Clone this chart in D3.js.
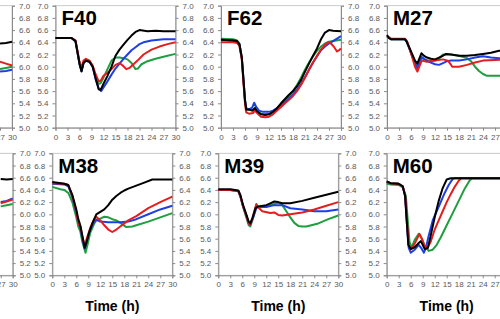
<!DOCTYPE html>
<html>
<head>
<meta charset="utf-8">
<script src="https://cdn.jsdelivr.net/npm/d3@7"></script>
<style>
  body { margin: 0; background: #fff; }
  svg { display: block; font-family: "Liberation Sans", Arial, sans-serif; }
  .tick text { fill: #595959; font-size: 8px; }
  .domain, .tick line { stroke: #8a8a8a; }
</style>
</head>
<body>
<svg id="chart"></svg>
<script>
// time ticks (h) and pH ticks
const timeTicks = [0, 3, 6, 9, 12, 15, 18, 21, 24, 27, 30];
const phTicks = [5.0, 5.2, 5.4, 5.6, 5.8, 6.0, 6.2, 6.4, 6.6, 6.8, 7.0];

// partial panel cut at left edge, top row
const topLeftBlack = [[27,6.38],[28.5,6.39],[30,6.41]];
const topLeftBlue  = [[27,5.92],[28.5,5.93],[30,5.95]];
const topLeftRed   = [[27,6.08],[28.5,6.05],[30,6.02]];
const topLeftGreen = [[27,5.96],[28.5,5.98],[30,6.0]];

const f40Black = [[0,6.47],[4,6.47],[5,6.42],[5.6,6.2],[6,6.05],[6.5,5.92],[7,6.06],[7.6,6.1],[8.5,6.08],[9.3,6.0],[10,5.82],[10.8,5.63],[11.3,5.62],[12,5.72],[13,5.85],[14,6.0],[15,6.18],[16,6.28],[17,6.36],[18,6.44],[19,6.51],[20,6.57],[21,6.6],[23,6.58],[25,6.59],[27,6.58],[30,6.58]];
const f40Blue  = [[0,6.47],[4,6.47],[5,6.42],[5.6,6.2],[6,6.05],[6.5,5.93],[7,6.06],[7.6,6.1],[8.5,6.08],[9.3,6.0],[10,5.8],[10.8,5.64],[11.4,5.6],[12,5.66],[13,5.76],[14,5.87],[15,5.97],[16,6.05],[17,6.13],[18,6.2],[19,6.27],[20,6.32],[21,6.37],[22,6.4],[24,6.43],[27,6.45],[30,6.45]];
const f40Red   = [[0,6.47],[4,6.47],[5,6.43],[5.6,6.22],[6,6.08],[6.5,5.98],[7,6.1],[7.6,6.13],[8.5,6.1],[9.3,6.02],[10,5.88],[10.8,5.76],[11.3,5.77],[12,5.85],[13,5.9],[14,5.96],[15,6.03],[16,6.06],[16.8,6.02],[17.7,5.96],[18.5,5.98],[19.5,6.04],[20.5,6.1],[22,6.2],[24,6.28],[26,6.33],[28,6.37],[30,6.4]];
const f40Green = [[0,6.47],[4,6.47],[5,6.42],[5.6,6.2],[6,6.05],[6.5,5.93],[7,6.06],[7.6,6.1],[8.5,6.08],[9.3,6.0],[10,5.84],[10.8,5.72],[11.3,5.73],[12,5.82],[13,5.96],[14,6.1],[15,6.15],[16,6.15],[17,6.14],[18,6.12],[19,6.06],[20,5.96],[20.6,5.97],[21.5,6.04],[23,6.09],[25,6.13],[27.5,6.17],[30,6.21]];

const f62Black = [[0,6.44],[3,6.43],[4,6.42],[4.6,6.37],[5.2,6.15],[5.6,5.8],[6,5.45],[6.3,5.3],[7,5.3],[7.8,5.28],[8.5,5.32],[9,5.27],[10,5.22],[11,5.21],[12,5.22],[13,5.26],[14,5.32],[15,5.4],[16,5.47],[17,5.54],[18,5.6],[19,5.68],[20,5.78],[21,5.92],[22,6.05],[23,6.18],[24,6.3],[25,6.45],[26,6.56],[27,6.6],[28,6.59],[30,6.58]];
const f62Blue  = [[0,6.44],[3,6.43],[4,6.42],[4.6,6.37],[5.2,6.15],[5.6,5.8],[6,5.45],[6.3,5.32],[7,5.3],[7.8,5.33],[8.3,5.41],[8.8,5.34],[9.5,5.28],[10.5,5.26],[12,5.26],[13,5.28],[14,5.32],[15,5.37],[16,5.42],[17,5.48],[18,5.55],[19,5.63],[20,5.72],[21,5.83],[22,5.95],[23,6.07],[24,6.17],[25,6.27],[26,6.33],[27,6.38],[28,6.42],[29,6.46],[30,6.5]];
const f62Red   = [[0,6.4],[3,6.4],[4,6.39],[4.6,6.34],[5.2,6.12],[5.6,5.75],[6,5.4],[6.3,5.25],[7,5.23],[8,5.24],[8.5,5.28],[9,5.24],[10,5.18],[11,5.17],[12,5.18],[13,5.22],[14,5.28],[15,5.34],[16,5.4],[17,5.46],[18,5.52],[19,5.6],[20,5.7],[21,5.82],[22,5.95],[23,6.07],[24,6.18],[25,6.28],[26,6.36],[26.8,6.4],[27.5,6.38],[28.3,6.32],[29,6.25],[29.5,6.27],[30,6.3]];
const f62Green = [[0,6.46],[3,6.45],[4,6.43],[4.6,6.38],[5.2,6.15],[5.6,5.8],[6,5.45],[6.3,5.3],[7,5.29],[8,5.28],[8.5,5.33],[9,5.27],[10,5.23],[12,5.22],[13,5.26],[14,5.31],[15,5.38],[16,5.45],[17,5.52],[18,5.6],[19,5.7],[20,5.82],[21,5.95],[22,6.07],[23,6.17],[24,6.26],[25,6.33],[26,6.38],[27,6.41],[28,6.42],[30,6.44]];

const m27Black = [[0,6.52],[0.5,6.47],[1,6.45],[4.5,6.45],[5,6.4],[6,6.25],[7,6.1],[7.6,6.05],[8,6.12],[8.6,6.22],[9.2,6.18],[10,6.15],[11,6.13],[12,6.12],[13,6.15],[14,6.18],[14.8,6.21],[16,6.2],[18,6.18],[20,6.18],[22,6.19],[24,6.21],[26,6.23],[28,6.26],[30,6.27]];
const m27Blue  = [[0,6.5],[1,6.45],[4.5,6.45],[5,6.4],[6,6.22],[7,6.05],[7.6,5.97],[8,6.05],[8.6,6.16],[9.5,6.12],[10.5,6.08],[12,6.04],[13,6.03],[14,6.06],[15,6.09],[16,6.1],[18,6.1],[20,6.12],[22,6.15],[24,6.17],[26,6.15],[28,6.14],[30,6.13]];
const m27Red   = [[0,6.5],[1,6.46],[4.5,6.46],[5,6.42],[6,6.22],[7,6.0],[7.6,5.92],[8.2,6.02],[8.7,6.1],[10,6.08],[12,6.1],[14,6.12],[15.2,6.1],[15.8,6.05],[16.3,6.0],[18,6.0],[20,6.03],[22,6.07],[24,6.1],[27,6.11],[30,6.12]];
const m27Green = [[0,6.5],[1,6.45],[4.5,6.45],[5,6.4],[6,6.24],[7,6.07],[7.6,6.0],[8.2,6.08],[8.7,6.14],[10,6.1],[12,6.1],[13,6.13],[14,6.2],[16,6.2],[18,6.18],[20,6.14],[21,6.09],[22,6.0],[23,5.93],[24,5.88],[25,5.85],[27,5.85],[30,5.85]];

// partial panel cut at left edge, bottom row
const botLeftBlack = [[27,6.58],[28.5,6.57],[30,6.58]];
const botLeftBlue  = [[27,6.2],[28.5,6.22],[30,6.26]];
const botLeftRed   = [[27,6.18],[28.5,6.21],[30,6.24]];
const botLeftGreen = [[27,6.13],[28.5,6.15],[30,6.17]];

const m38Black = [[0,6.53],[3,6.5],[4,6.48],[5,6.32],[6,6.08],[6.5,5.92],[7,5.82],[7.5,5.65],[8.1,5.45],[8.6,5.55],[9.2,5.7],[10,5.85],[11,6.0],[12,6.04],[13,6.08],[14,6.15],[15,6.24],[16,6.3],[17,6.35],[18,6.39],[19,6.42],[21,6.47],[23,6.52],[25,6.57],[27,6.57],[30,6.57]];
const m38Blue  = [[0,6.5],[3,6.49],[4,6.46],[5,6.28],[6,6.02],[6.5,5.87],[7,5.78],[7.5,5.6],[8.1,5.44],[8.6,5.55],[9.5,5.75],[10.5,5.88],[11,5.91],[12,5.88],[14,5.87],[17,5.87],[19,5.88],[21,5.92],[24,6.0],[27,6.08],[30,6.14]];
const m38Red   = [[0,6.51],[3,6.5],[4,6.48],[5,6.3],[6,6.05],[6.5,5.85],[7,5.8],[7.5,5.65],[8.1,5.48],[8.6,5.6],[9.5,5.78],[10.5,5.92],[11,5.96],[12,5.9],[13,5.82],[14,5.75],[15,5.71],[16,5.75],[17,5.8],[18,5.85],[19,5.9],[21,5.97],[24,6.1],[27,6.2],[30,6.29]];
const m38Green = [[0,6.45],[2,6.41],[3,6.4],[4,6.35],[5,6.2],[6,5.95],[6.5,5.8],[7,5.72],[7.5,5.55],[8.3,5.37],[8.8,5.5],[9.5,5.7],[10.5,5.85],[11,5.9],[12,5.93],[13,5.96],[14,5.95],[15,5.92],[16,5.9],[17,5.86],[18.5,5.79],[20,5.8],[21,5.82],[24,5.88],[27,5.95],[30,6.02]];

const m39Black = [[0,6.41],[3,6.41],[5,6.39],[5.5,6.32],[6.2,6.15],[7,6.0],[7.6,5.88],[8,5.85],[8.6,5.95],[9.3,6.1],[10,6.13],[12,6.15],[13,6.18],[14,6.21],[15,6.2],[16,6.18],[18,6.18],[21,6.22],[24,6.27],[27,6.32],[30,6.37]];
const m39Blue  = [[0,6.4],[3,6.4],[5,6.38],[5.5,6.3],[6.2,6.13],[7,5.98],[7.6,5.85],[8,5.83],[8.6,5.93],[9.5,6.1],[10,6.12],[12,6.12],[14,6.15],[16,6.15],[18,6.1],[21,6.08],[24,6.05],[27,6.05],[30,6.08]];
const m39Red   = [[0,6.4],[3,6.4],[5,6.38],[5.5,6.3],[6.2,6.13],[7,5.98],[7.6,5.85],[8,5.83],[8.6,5.95],[9.5,6.17],[10.2,6.1],[11,6.05],[13,6.02],[14,6.03],[15,5.99],[16,5.98],[18,6.0],[21,6.03],[24,6.08],[27,6.14],[30,6.2]];
const m39Green = [[0,6.4],[3,6.4],[5,6.38],[5.5,6.3],[6.2,6.12],[7,5.95],[7.6,5.82],[8,5.8],[8.6,5.92],[9.5,6.12],[10,6.12],[12,6.13],[14,6.17],[15,6.19],[16,6.15],[17,6.05],[18,5.95],[19,5.86],[20,5.81],[21,5.8],[22,5.8],[25,5.85],[27.5,5.92],[30,5.98]];

const m60Black = [[0,6.54],[1,6.51],[3,6.5],[4,6.46],[4.6,6.3],[5,5.9],[5.4,5.5],[6,5.43],[7,5.46],[8,5.53],[8.5,5.56],[9,5.5],[9.5,5.43],[10.3,5.45],[11,5.65],[12,5.95],[13,6.22],[14,6.43],[15,6.57],[16,6.59],[30,6.59]];
const m60Blue  = [[0,6.53],[1,6.51],[3,6.5],[4,6.46],[4.6,6.3],[5,5.9],[5.5,5.45],[6,5.37],[7,5.42],[8,5.5],[8.6,5.45],[9.3,5.37],[9.8,5.45],[10.5,5.65],[11.5,5.9],[12.5,6.05],[13.5,6.2],[14.5,6.35],[15.5,6.48],[16.5,6.58],[17,6.59],[30,6.59]];
const m60Red   = [[0,6.53],[1,6.51],[3,6.5],[4,6.46],[4.6,6.32],[5,5.95],[5.5,5.5],[6,5.42],[7,5.52],[8.2,5.68],[8.8,5.6],[9.5,5.48],[10.2,5.45],[11,5.55],[12,5.75],[13,5.9],[14,6.05],[15,6.2],[16,6.33],[17,6.45],[18,6.55],[18.6,6.59],[30,6.59]];
const m60Green = [[0,6.5],[1,6.49],[3,6.48],[4,6.44],[4.8,6.3],[5.2,5.95],[5.7,5.55],[6.2,5.45],[7,5.58],[8,5.68],[8.6,5.62],[9.5,5.48],[10.5,5.4],[11.5,5.42],[12.5,5.5],[13.5,5.62],[15,5.82],[16.5,6.02],[18,6.22],[19.5,6.42],[20.7,6.55],[21.3,6.59],[30,6.59]];

const panelNames = ['', 'F40', 'F62', 'M27', '', 'M38', 'M39', 'M60'];
const panelSeries = [
  [topLeftGreen, topLeftBlue, topLeftRed, topLeftBlack],
  [f40Green, f40Blue, f40Red, f40Black],
  [f62Green, f62Blue, f62Red, f62Black],
  [m27Green, m27Blue, m27Red, m27Black],
  [botLeftGreen, botLeftBlue, botLeftRed, botLeftBlack],
  [m38Green, m38Blue, m38Red, m38Black],
  [m39Green, m39Blue, m39Red, m39Black],
  [m60Green, m60Blue, m60Red, m60Black]
];
const seriesColors = ['#1e9e3e', '#1f3fe6', '#e41d1d', '#000000'];

const width = 500, height = 319;
const svg = d3.select('#chart').attr('width', width).attr('height', height);

// panel placement: [left, top] of the plot box
const boxes = [
  [-108, 5.7], [55.5, 5.7], [221, 5.7], [387, 5.7],
  [-107.3, 153.3], [52.3, 153.3], [218.3, 153.3], [386.7, 153.3]
];
const pw = 120, ph = 122;

function drawPanel(i) {
  const [left, top] = boxes[i];
  const g = svg.append('g').attr('transform', `translate(${left},${top})`);
  const x = d3.scaleLinear().domain([0, 30]).range([0, pw]);
  const y = d3.scaleLinear().domain([5, 7]).range([ph, 0]);

  g.append('rect')
    .attr('width', pw).attr('height', ph)
    .attr('fill', 'none').attr('stroke', '#bdbdbd').attr('stroke-width', 0.8);

  g.append('g')
    .call(d3.axisLeft(y).tickValues(phTicks).tickFormat(d3.format('.1f')).tickSize(3).tickPadding(4));
  g.append('g')
    .attr('transform', `translate(${pw},0)`)
    .call(d3.axisRight(y).tickValues(phTicks).tickFormat(d3.format('.1f')).tickSize(3).tickPadding(4));
  g.append('g')
    .attr('transform', `translate(0,${ph})`)
    .call(d3.axisBottom(x).tickValues(timeTicks).tickSize(3).tickPadding(3.5));

  const line = d3.line().x(d => x(d[0])).y(d => y(d[1]));
  panelSeries[i].forEach((s, k) => {
    g.append('path')
      .datum(s)
      .attr('d', line)
      .attr('fill', 'none')
      .attr('stroke', seriesColors[k])
      .attr('stroke-width', 2)
      .attr('stroke-linejoin', 'round');
  });

  if (panelNames[i]) {
    g.append('text')
      .attr('x', 6).attr('y', 19.5)
      .attr('font-size', '20.5px').attr('font-weight', 'bold')
      .text(panelNames[i]);
  }
  if (i >= 4) {
    g.append('text')
      .attr('x', pw / 2).attr('y', ph + 36)
      .attr('text-anchor', 'middle')
      .attr('font-size', '14px').attr('font-weight', 'bold')
      .text('Time (h)');
  }
}

for (let i = 0; i < boxes.length; i++) drawPanel(i);
</script>
</body>
</html>
